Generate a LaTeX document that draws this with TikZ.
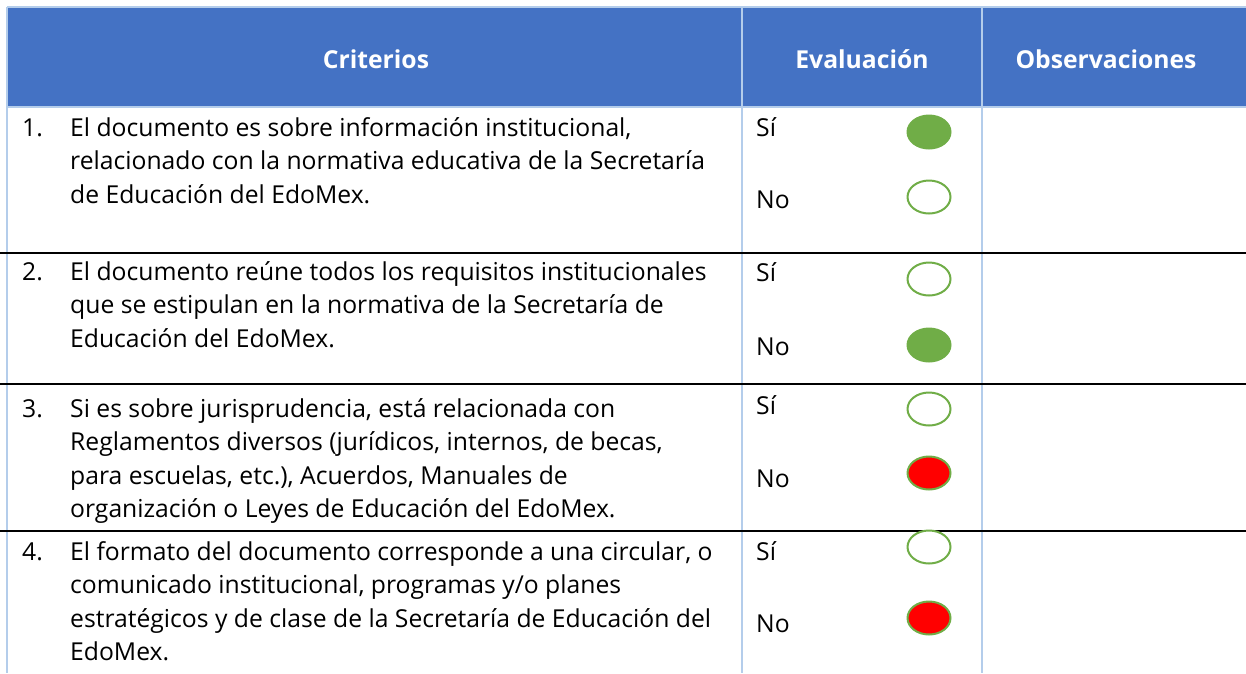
\documentclass[tikz,border=0pt]{standalone}
\usepackage{fontspec}
\setmainfont{Open Sans}
\usepackage{tikz}
\usetikzlibrary{shapes.geometric, positioning}
\definecolor{headblue}{RGB}{68, 114, 196}
\definecolor{gridblue}{RGB}{180, 205, 235}
\definecolor{okgreen}{RGB}{112, 173, 71}
\definecolor{badred}{RGB}{255, 0, 0}

\begin{document}
\begin{tikzpicture}[
    x=1pt, y=-1pt,
    hdr/.style={text=white, font=\fontsize{24.7}{33.5}\selectfont\bfseries, inner sep=0pt, anchor=base},
    crit/.style={align=left, font=\fontsize{24.7}{33.5}\selectfont, inner sep=0pt, anchor=north west},
    num/.style={font=\fontsize{24.7}{33.5}\selectfont, inner sep=0pt, anchor=base west},
    answer/.style={font=\fontsize{24.7}{33.5}\selectfont, inner sep=0pt, anchor=base west},
    dotempty/.style={ellipse, draw=okgreen, line width=2pt, fill=white, minimum width=43pt, minimum height=33pt, inner sep=0pt},
    dotfull/.style={dotempty, fill=okgreen},
    dotred/.style={dotempty, fill=badred},
    gridline/.style={gridblue, line width=1.5pt},
    rowsep/.style={black, line width=1.8pt}
]
    \useasboundingbox (0,0) rectangle (1246,673);

    % header band
    \fill[headblue] (7,7) rectangle (1246,106);
    \draw[gridline] (7,7) -- (1246,7);
    \draw[gridline, line width=2pt] (7,107) -- (1246,107);
    \draw[gridline] (7,7) -- (7,673);
    \draw[gridline] (742,7) -- (742,673);
    \draw[gridline] (982,7) -- (982,673);

    \node[hdr] (hcrit) at (376,68.5) {Criterios};
    \node[hdr] (heval) at (862,68.5) {Evaluación};
    \node[hdr] (hobs) at (1106,68.5) {Observaciones};

    % row separators
    \draw[rowsep] (0,253) -- (1246,253);
    \draw[rowsep] (0,384) -- (1246,384);
    \draw[rowsep, line width=1.4pt] (0,531) -- (1246,531);

    % row 1
    \node[num] (n1) at (22,136) {1.};
    \node[crit] (c1) at (70,112.5) {\strut El documento es sobre información institucional,\\relacionado con la normativa educativa de la Secretaría\\de Educación del EdoMex.};
    \node[answer] (si1) at (756,136) {Sí};
    \node[answer] (no1) at (756,208) {No};
    \node[dotfull] (d1s) at (929,132) {};
    \node[dotempty] (d1n) at (929,197) {};

    % row 2
    \node[num] (n2) at (22,280) {2.};
    \node[crit] (c2) at (70,256.5) {\strut El documento reúne todos los requisitos institucionales\\que se estipulan en la normativa de la Secretaría de\\Educación del EdoMex.};
    \node[answer] (si2) at (756,281) {Sí};
    \node[answer] (no2) at (756,355) {No};
    \node[dotempty] (d2s) at (929,279) {};
    \node[dotfull] (d2n) at (929,345) {};

    % row 3
    \node[num] (n3) at (22,417) {3.};
    \node[crit] (c3) at (70,393.5) {\strut Si es sobre jurisprudencia, está relacionada con\\Reglamentos diversos (jurídicos, internos, de becas,\\para escuelas, etc.), Acuerdos, Manuales de\\organización o Leyes de Educación del EdoMex.};
    \node[answer] (si3) at (756,414) {Sí};
    \node[answer] (no3) at (756,487) {No};
    \node[dotempty] (d3s) at (929,409) {};
    \node[dotred] (d3n) at (929,473) {};

    % row 4
    \node[num] (n4) at (22,560) {4.};
    \node[crit] (c4) at (70,536.5) {\strut El formato del documento corresponde a una circular, o\\comunicado institucional, programas y/o planes\\estratégicos y de clase de la Secretaría de Educación del\\EdoMex.};
    \node[answer] (si4) at (756,560) {Sí};
    \node[answer] (no4) at (756,632) {No};
    \node[dotempty] (d4s) at (929,547) {};
    \node[dotred] (d4n) at (929,618) {};
\end{tikzpicture}
\end{document}
